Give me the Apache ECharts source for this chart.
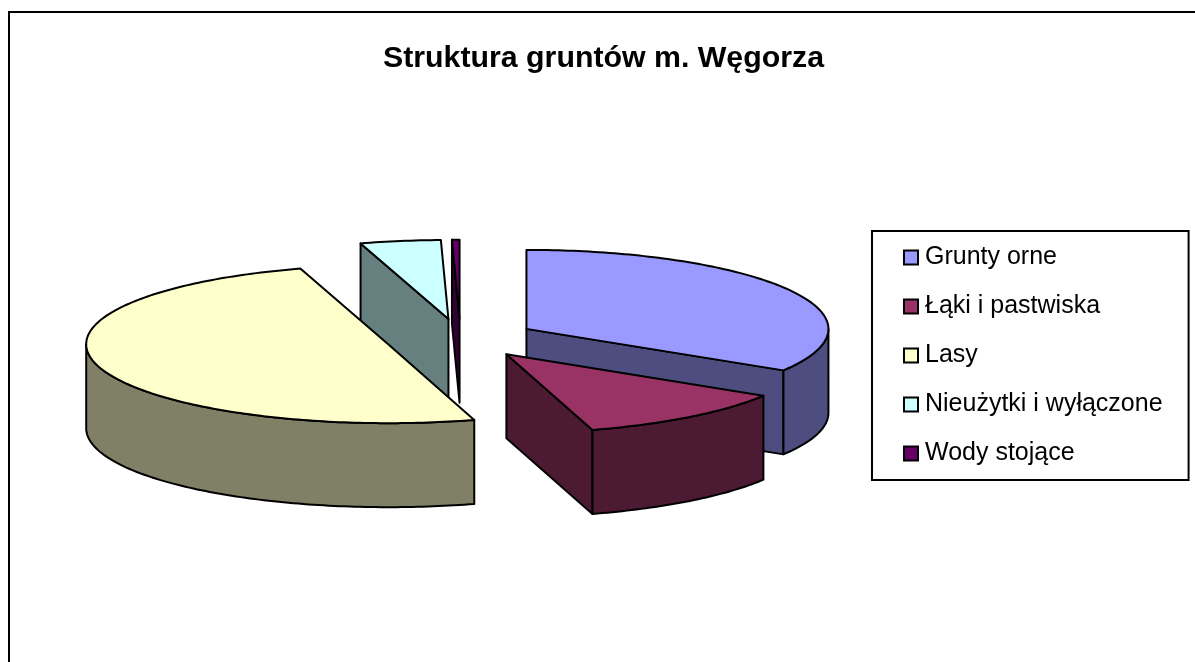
<!DOCTYPE html>
<html>
<head>
<meta charset="utf-8">
<style>
html, body { margin: 0; padding: 0; background: #fff; }
#chart { width: 1195px; height: 662px; }
</style>
<script src="https://cdn.jsdelivr.net/npm/echarts@6/dist/echarts.min.js"></script>
</head>
<body>
<div id="chart"></div>
<script>
// dane (udzial w %)
const categories = ['Grunty orne', 'Łąki i pastwiska', 'Lasy', 'Nieużytki i wyłączone', 'Wody stojące']
const shares = [33.8, 11.6, 49.9, 4.3, 0.4]
const topColors = ['#9999ff', '#993366', '#ffffcc', '#ccffff', '#660066']
const sideColors = ['#4d4d80', '#4d1a33', '#808066', '#668080', '#330033']
// kolejnosc rysowania: od tylu do przodu
const drawOrder = [4, 3, 0, 2, 1]

// geometria "pseudo 3D"
const cx = 460.5
const cy = 338.5
const rx = 302
const ry = 79
const depth = 84
const explode = 0.25

const total = shares.reduce((a, b) => a + b, 0)
const startAngles = []
shares.reduce((sum, v, i) => {
  startAngles[i] = (sum / total) * 360
  return sum + v
}, 0)

const rad = (deg) => (deg * Math.PI) / 180

function rimPoint(apex, deg, dy) {
  return [apex[0] + rx * Math.sin(rad(deg)), apex[1] - ry * Math.cos(rad(deg)) + dy]
}

function arcPoints(apex, from, to, dy) {
  const pts = []
  const steps = Math.max(2, Math.ceil(to - from))
  for (let i = 0; i <= steps; i++) {
    pts.push(rimPoint(apex, from + ((to - from) * i) / steps, dy))
  }
  return pts
}

function face(points, fill) {
  return {
    type: 'polygon',
    shape: { points: points },
    style: { fill: fill, stroke: '#000', lineWidth: 2, lineJoin: 'round' }
  }
}

// jeden wycinek: sciany boczne + wierzch
function renderSlice(params, api) {
  const idx = drawOrder[params.seriesIndex]
  const a0 = startAngles[idx]
  const a1 = a0 + (api.value(0) / total) * 360
  const mid = (a0 + a1) / 2
  const apex = [cx + explode * rx * Math.sin(rad(mid)), cy - explode * ry * Math.cos(rad(mid))]
  const apexLow = [apex[0], apex[1] + depth]
  const children = []

  if (Math.sin(rad(a0)) < 0) {
    children.push(face([apex, rimPoint(apex, a0, 0), rimPoint(apex, a0, depth), apexLow], sideColors[idx]))
  }
  if (Math.sin(rad(a1)) > 0) {
    children.push(face([apex, rimPoint(apex, a1, 0), rimPoint(apex, a1, depth), apexLow], sideColors[idx]))
  }
  const from = Math.max(a0, 90)
  const to = Math.min(a1, 270)
  if (to > from) {
    children.push(face(arcPoints(apex, from, to, 0).concat(arcPoints(apex, from, to, depth).reverse()), sideColors[idx]))
  }
  children.push(face([apex].concat(arcPoints(apex, a0, a1, 0)), topColors[idx]))
  return { type: 'group', children: children }
}

const chartInstance = echarts.init(document.getElementById('chart'))
chartInstance.setOption({
  animation: false,
  backgroundColor: '#fff',
  textStyle: { fontFamily: 'Liberation Sans' },
  title: {
    text: 'Struktura gruntów m. Węgorza',
    left: 598.5,
    top: 39,
    textAlign: 'center',
    textStyle: { fontFamily: 'Liberation Sans', fontSize: 30.3, fontWeight: 'bold', color: '#000' }
  },
  legend: {
    orient: 'vertical',
    left: 872,
    top: 231,
    padding: [14, 26, 14, 31],
    itemGap: 24,
    itemWidth: 14,
    itemHeight: 14,
    icon: 'rect',
    selectedMode: false,
    borderColor: '#000',
    borderWidth: 2,
    backgroundColor: '#fff',
    textStyle: { fontFamily: 'Liberation Sans', fontSize: 25, color: '#000', padding: [0, 0, 0, 2] },
    data: categories.map((name, i) => ({
      name: name,
      itemStyle: { color: topColors[i], borderColor: '#000', borderWidth: 2 }
    }))
  },
  graphic: [
    {
      type: 'polyline',
      shape: { points: [[9, 662], [9, 12], [1195, 12]] },
      style: { fill: null, stroke: '#000', lineWidth: 2 }
    }
  ],
  series: drawOrder.map((idx) => ({
    type: 'custom',
    name: categories[idx],
    coordinateSystem: 'none',
    silent: true,
    itemStyle: { color: topColors[idx] },
    renderItem: renderSlice,
    data: [[shares[idx]]]
  }))
})
</script>
</body>
</html>
